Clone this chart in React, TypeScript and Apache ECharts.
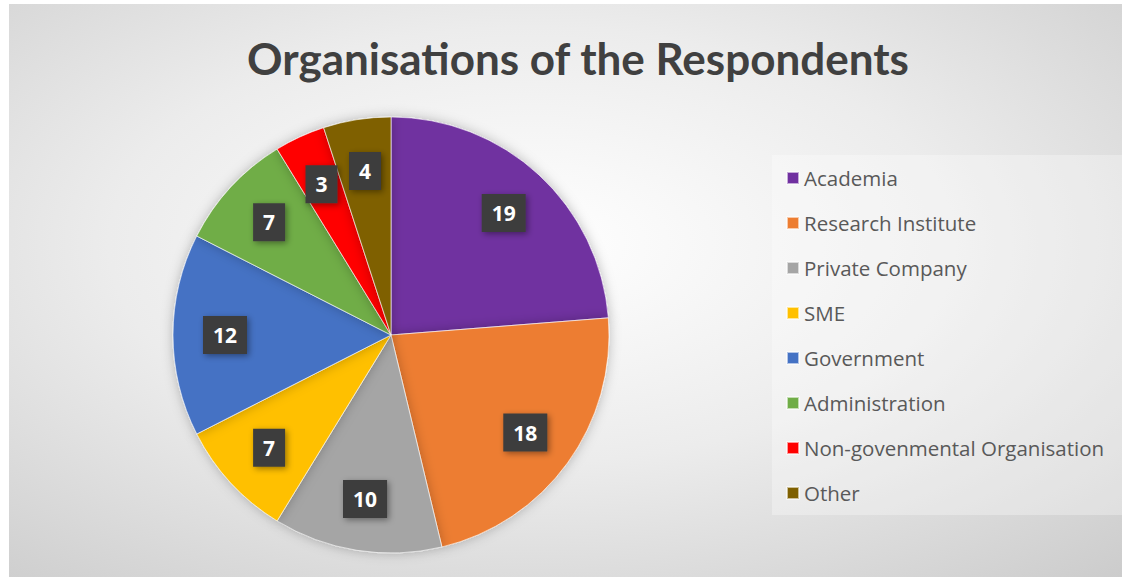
import React, { useEffect, useRef } from "react";
import * as echarts from "echarts";

const categories = [
  "Academia",
  "Research Institute",
  "Private Company",
  "SME",
  "Government",
  "Administration",
  "Non-govenmental Organisation",
  "Other",
];
const values = [19, 18, 10, 7, 12, 7, 3, 4];
const colors = ["#7030A0", "#ED7D31", "#A5A5A5", "#FFC000", "#4472C4", "#70AD47", "#FF0000", "#7F6000"];
const titleText = "Organisations of the Respondents";

export default function App() {
  const ref = useRef<HTMLDivElement>(null);
  useEffect(() => {
    if (!ref.current) return;
    const chart = echarts.init(ref.current, null, { renderer: "svg" });
    const center = [391, 335];
    chart.setOption({
      animation: false,
      graphic: [
        {
          type: "rect",
          z: -10,
          silent: true,
          shape: { x: 9, y: 4, width: 1113, height: 573 },
          style: {
            fill: {
              type: "radial",
              x: 0.47,
              y: 0.42,
              r: 0.95,
              colorStops: [
                { offset: 0, color: "#ffffff" },
                { offset: 0.4, color: "#ececec" },
                { offset: 1, color: "#bfbfbf" },
              ],
            },
          },
        },
        {
          type: "rect",
          z: -9,
          silent: true,
          shape: { x: 772, y: 155, width: 350, height: 360 },
          style: { fill: "rgba(255,255,255,0.3)" },
        },
        {
          type: "text",
          x: 578,
          y: 58,
          style: {
            text: titleText,
            fill: "#404040",
            font: "bold 44px Lato",
            textAlign: "center",
            textVerticalAlign: "middle",
          },
        },
      ],
      legend: {
        orient: "vertical",
        left: 781,
        top: 162,
        icon: "rect",
        itemWidth: 12,
        itemHeight: 12,
        itemGap: 23,
        data: categories,
        textStyle: { fontFamily: "Open Sans", fontSize: 20.5, color: "#595959", lineHeight: 22 },
      },
      series: [
        {
          type: "pie",
          center,
          radius: [0, 218],
          startAngle: 90,
          clockwise: true,
          label: { show: false },
          labelLine: { show: false },
          itemStyle: {
            borderColor: "rgba(255,255,255,0.6)",
            borderWidth: 1,
            shadowBlur: 12,
            shadowColor: "rgba(0,0,0,0.25)",
          },
          data: categories.map((name, i) => ({
            name,
            value: values[i],
            itemStyle: { color: colors[i] },
          })),
        },
        {
          type: "pie",
          center,
          radius: [142, 184],
          startAngle: 90,
          clockwise: true,
          silent: true,
          z: 5,
          itemStyle: { color: "rgba(0,0,0,0)", borderWidth: 0 },
          label: {
            show: true,
            position: "inside",
            formatter: "{c}",
            color: "#ffffff",
            fontFamily: "Open Sans",
            fontWeight: "bold",
            fontSize: 21,
            backgroundColor: "#3d3d3d",
            padding: [9, 10, 8, 10],
            shadowBlur: 6,
            shadowOffsetX: 2,
            shadowOffsetY: 2,
            shadowColor: "rgba(0,0,0,0.4)",
          },
          labelLine: { show: false },
          data: categories.map((name, i) => ({
            name,
            value: values[i],
          })),
        },
      ],
    });
    return () => chart.dispose();
  }, []);
  return <div ref={ref} style={{ position: "absolute", left: 0, top: 0, width: 1122, height: 579 }} />;
}
